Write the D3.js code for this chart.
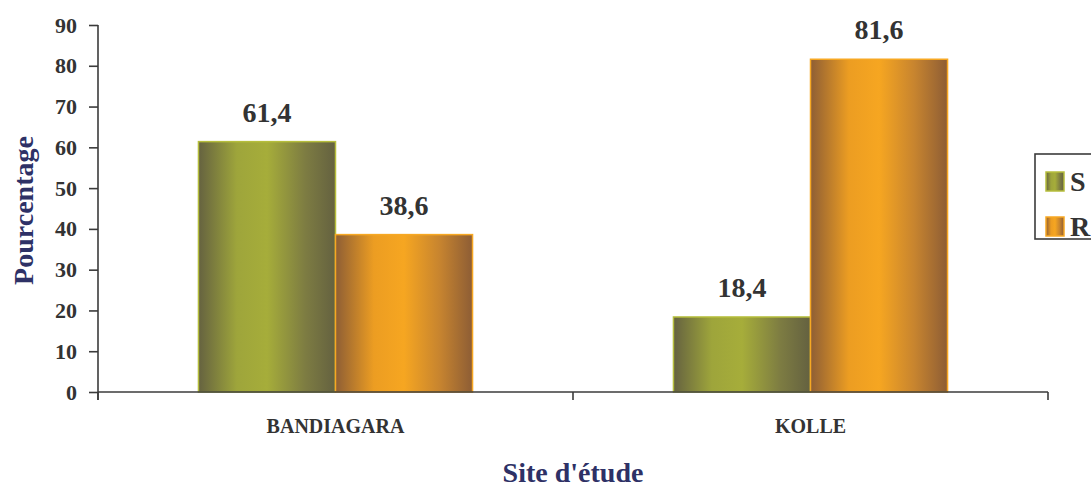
<!DOCTYPE html>
<html>
<head>
<meta charset="utf-8">
<script src="https://cdn.jsdelivr.net/npm/d3@7"></script>
<style>
  html, body { margin: 0; padding: 0; background: #fff; overflow: hidden; }
  svg { display: block; font-family: "Liberation Serif", "Times New Roman", serif; font-weight: bold; }
</style>
</head>
<body>
<svg id="chart" width="1091" height="489"></svg>
<script>
// Study sites and the two series (percentages)
const categories = ["BANDIAGARA", "KOLLE"];
const seriesNames = ["S", "R"];
const sValues = [61.4, 18.4];
const rValues = [38.6, 81.6];
const yTicks = [0, 10, 20, 30, 40, 50, 60, 70, 80, 90];
const yTitle = "Pourcentage";
const xTitle = "Site d'étude";

const svg = d3.select("#chart");
const W = 1091, H = 489;
const plot = { left: 98, right: 1048, top: 25, bottom: 392 };

const x0 = d3.scaleBand().domain(categories).range([plot.left, plot.right]).padding(0);
const x1 = d3.scaleBand().domain(seriesNames).range([0, x0.bandwidth()]).paddingInner(0).paddingOuter(0.733);
const y = d3.scaleLinear().domain([0, 90]).range([plot.bottom, plot.top]);

const fmt = v => d3.format(".1f")(v).replace(".", ",");

// Horizontal shading for the cylindrical-looking bars
const defs = svg.append("defs");
const gradients = {
  S: [["0%", "#656240"], ["28%", "#9ea53b"], ["50%", "#a6ad3a"], ["78%", "#7d7c42"], ["100%", "#646140"]],
  R: [["0%", "#8e5e35"], ["28%", "#ec9d22"], ["50%", "#f6a621"], ["76%", "#c7842f"], ["100%", "#8d5d35"]]
};
const borders = { S: "#b6be3c", R: "#f7a823" };
Object.entries(gradients).forEach(([k, stops]) => {
  const g = defs.append("linearGradient").attr("id", "grad-" + k)
    .attr("x1", "0%").attr("x2", "100%").attr("y1", "0%").attr("y2", "0%");
  stops.forEach(([o, c]) => g.append("stop").attr("offset", o).attr("stop-color", c));
});

const rows = categories.map((c, i) => ({ cat: c, values: [
  { key: "S", value: sValues[i] },
  { key: "R", value: rValues[i] }
]}));

// Bars
const groups = svg.append("g").selectAll("g").data(rows).join("g")
  .attr("transform", d => `translate(${x0(d.cat)},0)`);

groups.selectAll("rect").data(d => d.values).join("rect")
  .attr("x", d => x1(d.key))
  .attr("y", d => y(d.value))
  .attr("width", x1.bandwidth())
  .attr("height", d => y(0) - y(d.value))
  .attr("fill", d => `url(#grad-${d.key})`)
  .attr("stroke", d => borders[d.key])
  .attr("stroke-width", 1.5);

// Value labels
groups.selectAll("text.val").data(d => d.values).join("text")
  .attr("class", "val")
  .attr("x", d => x1(d.key) + x1.bandwidth() / 2)
  .attr("y", d => y(d.value) - 20)
  .attr("text-anchor", "middle")
  .attr("font-size", 28)
  .attr("fill", "#333")
  .text(d => fmt(d.value));

// Axes
const axisColor = "#3b3b3b";
const yAxis = svg.append("g").attr("transform", `translate(${plot.left},0)`)
  .call(d3.axisLeft(y).tickValues(yTicks).tickSize(9).tickPadding(12).tickFormat(d3.format("d")));
yAxis.select(".domain").remove();
yAxis.append("line").attr("x1", 0).attr("x2", 0).attr("y1", plot.top).attr("y2", plot.bottom + 8)
  .attr("stroke", axisColor).attr("stroke-width", 1.6);
yAxis.selectAll(".tick line").attr("stroke", axisColor).attr("stroke-width", 1.6);
yAxis.selectAll(".tick text").attr("font-size", 22).attr("fill", "#333")
  .attr("font-family", "Liberation Serif, serif").attr("font-weight", "bold");

const xAxis = svg.append("g").attr("transform", `translate(0,${plot.bottom})`);
xAxis.append("line").attr("x1", plot.left).attr("x2", plot.right).attr("y1", 0).attr("y2", 0)
  .attr("stroke", axisColor).attr("stroke-width", 1.6);
const boundaries = categories.map(c => x0(c)).concat([x0.range()[1]]);
xAxis.selectAll("line.tk").data(boundaries).join("line").attr("class", "tk")
  .attr("x1", d => d).attr("x2", d => d).attr("y1", 0).attr("y2", 8)
  .attr("stroke", axisColor).attr("stroke-width", 1.6);
xAxis.selectAll("text.cat").data(categories).join("text").attr("class", "cat")
  .attr("x", d => x0(d) + x0.bandwidth() / 2)
  .attr("y", 41)
  .attr("text-anchor", "middle")
  .attr("font-size", 20)
  .attr("fill", "#333")
  .text(d => d);

// Axis titles
const titleColor = "#2e3166";
svg.append("text")
  .attr("transform", `translate(33,${(plot.top + plot.bottom) / 2 + 2}) rotate(-90)`)
  .attr("text-anchor", "middle")
  .attr("font-size", 28)
  .attr("fill", titleColor)
  .text(yTitle);
svg.append("text")
  .attr("x", (plot.left + plot.right) / 2)
  .attr("y", 482)
  .attr("text-anchor", "middle")
  .attr("font-size", 28)
  .attr("fill", titleColor)
  .text(xTitle);

// Legend (its frame runs past the right edge)
const legend = svg.append("g").attr("transform", "translate(1035,154)");
legend.append("rect").attr("x", 0).attr("y", 0).attr("width", 80).attr("height", 85)
  .attr("fill", "#fff").attr("stroke", axisColor).attr("stroke-width", 1.6);
const items = legend.selectAll("g").data(seriesNames).join("g")
  .attr("transform", (d, i) => `translate(11,${18 + i * 45})`);
items.append("rect").attr("width", 18).attr("height", 19)
  .attr("fill", d => `url(#grad-${d})`).attr("stroke", d => borders[d]).attr("stroke-width", 1.5);
items.append("text").attr("x", 24).attr("y", 19)
  .attr("font-size", 28).attr("fill", "#333").text(d => d);
</script>
</body>
</html>
